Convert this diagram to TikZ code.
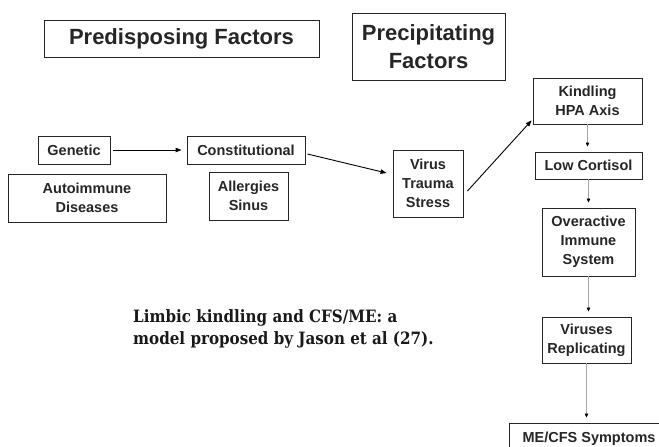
\documentclass[tikz,border=0pt]{standalone}
\usepackage{fontspec}
\setmainfont{Liberation Sans}
\newfontfamily\capfont[FakeStretch=0.89]{DejaVu Serif}
\usetikzlibrary{arrows.meta}
\tikzset{
  box/.style={draw=black!85, line width=0.9pt, align=center, inner sep=0pt,
    font=\fontsize{14.5}{19}\selectfont\bfseries, text=black!85},
  bigbox/.style={box, font=\fontsize{22}{28}\selectfont\bfseries},
  link/.style={-{Triangle[length=6pt,width=4.5pt]}, line width=0.9pt},
  flow/.style={-{Triangle[length=4pt,width=3.5pt,color=black]}, draw=black!35,
    line width=0.5pt, shorten >=5pt}
}
\begin{document}
\begin{tikzpicture}[x=1pt,y=-1pt]
  \useasboundingbox (0,0) rectangle (659,447);
  % headings
  \node[bigbox, minimum width=275pt, minimum height=37pt] (pred) at (181.5,38.5) {Predisposing Factors};
  \node[bigbox, minimum width=153pt, minimum height=67pt] (prec) at (428.5,46.5) {Precipitating\\Factors};
  % predisposing
  \node[box, minimum width=72pt, minimum height=28pt] (gen) at (74,150) {Genetic};
  \node[box, minimum width=118pt, minimum height=28pt] (const) at (246,150) {Constitutional};
  \node[box, minimum width=158pt, minimum height=48pt] (auto) at (87,198) {Autoimmune\\Diseases};
  \node[box, minimum width=79pt, minimum height=48pt] (allerg) at (248.5,196) {Allergies\\Sinus};
  % precipitating
  \node[box, minimum width=70pt, minimum height=67pt] (virus) at (428,183.5) {Virus\\Trauma\\Stress};
  % chain
  \node[box, minimum width=109pt, minimum height=46pt] (kind) at (587.5,101) {Kindling\\HPA Axis};
  \node[box, minimum width=107pt, minimum height=27pt] (low) at (588.5,165.5) {Low Cortisol};
  \node[box, minimum width=93pt, minimum height=68pt] (over) at (588.5,242) {Overactive\\Immune\\System};
  \node[box, minimum width=89pt, minimum height=46pt] (viru) at (586.5,340) {Viruses\\Replicating};
  \node[box, minimum width=160pt, minimum height=32pt] (me) at (589,439) {ME/CFS Symptoms};
  % caption
  \node[anchor=north west, align=left, inner sep=0pt, text=black!90,
    font=\capfont\bfseries\fontsize{17}{22}\selectfont] (cap) at (133,309)
    {Limbic kindling and CFS/ME: a\\model proposed by Jason et al (27).};
  \begin{scope}[link]
    \draw[shorten <=3pt, shorten >=5pt] (gen) -- (const);
    \draw ([shift={(2,4)}]const.east) -- ([shift={(-6,-10.5)}]virus.west);
    \draw ([shift={(4,7.5)}]virus.east) -- ([shift={(-1,-4)}]kind.south west);
  \end{scope}
  \begin{scope}[flow]
    \draw (kind.south) -- (kind.south |- low.north);
    \draw (low.south) -- (low.south |- over.north);
    \draw (over.south) -- (over.south |- viru.north);
    \draw (viru.south) -- (viru.south |- me.north);
  \end{scope}
\end{tikzpicture}
\end{document}
